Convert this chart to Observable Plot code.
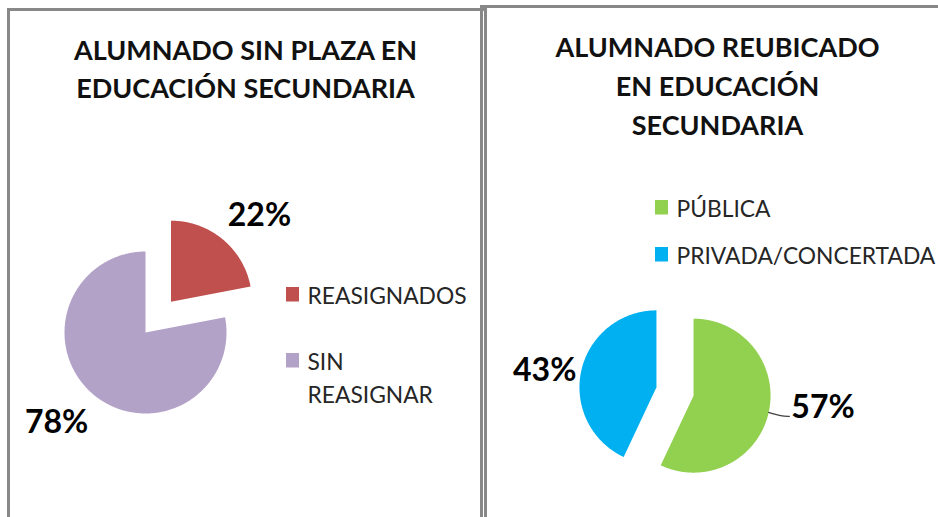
<!DOCTYPE html>
<html><head><meta charset="utf-8">
<script src="https://cdn.jsdelivr.net/npm/d3@7"></script>
<script src="https://cdn.jsdelivr.net/npm/@observablehq/plot@0.6"></script>
<style>
html,body{margin:0;padding:0;background:#fff;}
#wrap{position:relative;width:938px;height:517px;overflow:hidden;background:#fff;}
#chart{position:absolute;left:0;top:0;}
.panel{position:absolute;border:3px solid #888;box-sizing:border-box;pointer-events:none;}
</style></head><body>
<div id="wrap">
<div id="chart"></div>
<div class="panel" style="left:7px;top:8px;width:480px;height:540px"></div>
<div class="panel" style="left:480px;top:5px;width:480px;height:540px"></div>
</div>
<script>
// ---- data ----
const leftTitle = "ALUMNADO SIN PLAZA EN\nEDUCACIÓN SECUNDARIA";
const leftCategories = ["REASIGNADOS", "SIN REASIGNAR"];
const leftLegendLabels = ["REASIGNADOS", "SIN\nREASIGNAR"];
const leftValues = [22, 78];
const leftColors = ["#C0504D", "#B3A2C7"];

const rightTitle = "ALUMNADO REUBICADO\nEN EDUCACIÓN\nSECUNDARIA";
const rightCategories = ["PÚBLICA", "PRIVADA/CONCERTADA"];
const rightLegendLabels = ["PÚBLICA", "PRIVADA/CONCERTADA"];
const rightValues = [57, 43];
const rightColors = ["#92D050", "#00B0F0"];

// ---- layout ----
const W = 938, H = 517;
const deg = Math.PI / 180;
const TITLE_FS = 27, LEGEND_FS = 22.8, LABEL_FS = 32;
const LEGEND_LH = 1.45;
// y for lineAnchor "top" such that the first line's cap top sits at capTop
const topY = (capTop, fs, lh) => capTop - 0.71 * (lh - 1) * fs;

const panels = [
  {title: leftTitle, titleX: 245, titleY: 40, titleLH: 1.42,
   cats: leftCategories, labels: leftLegendLabels, values: leftValues,
   center: [145, 332], r: 81, explode: [40, 0],
   labelDist: [123, 127], labelTurn: [6.4 * deg, 4.8 * deg], leader: [false, false],
   legendX: 286, legendY0: 287, legendStep: 66},
  {title: rightTitle, titleX: 717, titleY: 37, titleLH: 1.45,
   cats: rightCategories, labels: rightLegendLabels, values: rightValues,
   center: [674.5, 391], r: 77, explode: [19, 19],
   labelDist: [0, 113], labelTurn: [0, -4 * deg], leader: [true, false],
   legendX: 655, legendY0: 200, legendStep: 47}
];

const slicePts = [], labels = [], leaderLabels = [], leaders = [], legend = [], titles = [];
for (const p of panels) {
  const arcs = d3.pie().sort(null).value(d => d)(p.values);
  arcs.forEach((a, i) => {
    const cat = p.cats[i];
    const mid = (a.startAngle + a.endAngle) / 2;
    const ox = p.center[0] + p.explode[i] * Math.sin(mid);
    const oy = p.center[1] - p.explode[i] * Math.cos(mid);
    slicePts.push({cat, x: ox, y: oy});
    const n = Math.ceil((a.endAngle - a.startAngle) / 0.01);
    for (let k = 0; k <= n; k++) {
      const t = a.startAngle + (a.endAngle - a.startAngle) * k / n;
      slicePts.push({cat, x: ox + p.r * Math.sin(t), y: oy - p.r * Math.cos(t)});
    }
    const text = Math.round(a.value / d3.sum(p.values) * 100) + "%";
    if (p.leader[i]) {
      const x0 = ox + p.r * Math.sin(mid), y0 = oy - p.r * Math.cos(mid);
      const x1 = x0 + 13 * Math.sin(mid), y1 = y0 - 13 * Math.cos(mid) + 1;
      const x2 = x1 + 8, y2 = y1;
      leaders.push({id: cat, x: x0, y: y0}, {id: cat, x: x1, y: y1}, {id: cat, x: x2, y: y2});
      leaderLabels.push({text, x: x2 + 2, y: y2 - 9});
    } else {
      const t = mid + p.labelTurn[i];
      labels.push({text, x: ox + p.labelDist[i] * Math.sin(t), y: oy - p.labelDist[i] * Math.cos(t)});
    }
    legend.push({cat, label: p.labels[i], x: p.legendX, y: p.legendY0 + i * p.legendStep});
  });
  titles.push({text: p.title, x: p.titleX, y: topY(p.titleY, TITLE_FS, p.titleLH), lh: p.titleLH});
}

const chart = Plot.plot({
  width: W, height: H, margin: 0,
  style: {background: "transparent", fontFamily: "Lato, 'Open Sans', sans-serif"},
  x: {domain: [0, W], range: [0, W], axis: null},
  y: {domain: [0, H], range: [0, H], axis: null},
  color: {domain: [...leftCategories, ...rightCategories], range: [...leftColors, ...rightColors]},
  marks: [
    Plot.line(slicePts, {x: "x", y: "y", z: "cat", fill: "cat", stroke: "none", curve: "linear-closed"}),
    Plot.line(leaders, {x: "x", y: "y", z: "id", stroke: "#404040", strokeWidth: 1.2, curve: "basis"}),
    Plot.text(labels, {x: "x", y: "y", text: "text", textAnchor: "middle", fontSize: LABEL_FS, fontWeight: 700, fill: "#000"}),
    Plot.text(leaderLabels, {x: "x", y: "y", text: "text", textAnchor: "start", fontSize: LABEL_FS, fontWeight: 700, fill: "#000"}),
    ...titles.map(t => Plot.text([t], {x: "x", y: "y", text: "text", lineAnchor: "top", lineHeight: t.lh, fontSize: TITLE_FS, fontWeight: 700, fill: "#111"})),
    Plot.rect(legend, {x1: "x", x2: d => d.x + 13, y1: "y", y2: d => d.y + 14.5, fill: "cat"}),
    Plot.text(legend, {x: d => d.x + 21, y: d => topY(d.y, LEGEND_FS, LEGEND_LH), text: "label", textAnchor: "start", lineAnchor: "top", lineHeight: LEGEND_LH, fontSize: LEGEND_FS, fill: "#262626"})
  ]
});
document.getElementById("chart").appendChild(chart);
</script>
</body></html>
